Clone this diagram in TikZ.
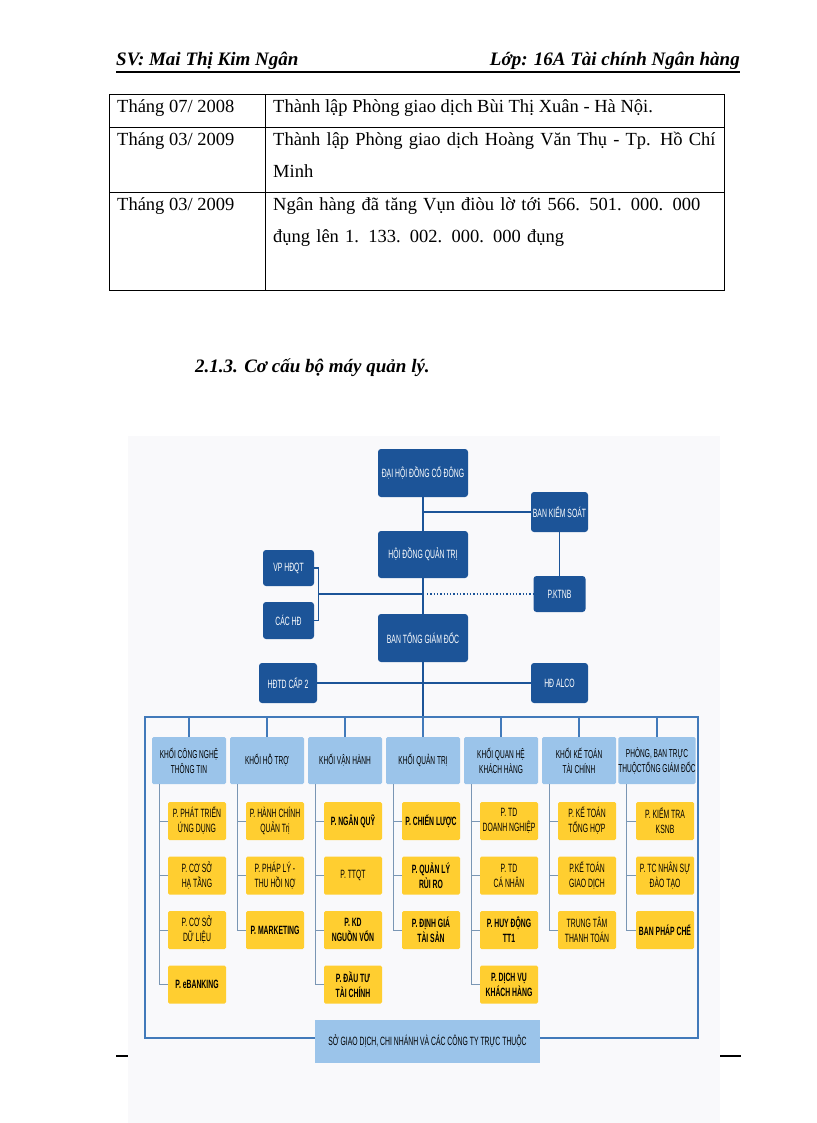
\documentclass[tikz,border=0pt]{standalone}
\usepackage{fontspec}
\setmainfont{Liberation Serif}
\newfontfamily\chartfont[FakeStretch=0.57]{Liberation Sans}
\usepackage{tikz}
\usetikzlibrary{calc, positioning}
\usepackage{xcolor}
\definecolor{orgBlue}{RGB}{28, 84, 152}
\definecolor{khoiBlue}{RGB}{155, 196, 234}
\definecolor{phongGold}{RGB}{255, 206, 48}
\definecolor{frameBlue}{RGB}{66, 122, 186}
\definecolor{tickGray}{RGB}{122, 150, 180}
\definecolor{chartBg}{RGB}{249, 249, 251}

\begin{document}
\begin{tikzpicture}[
  x=1pt, y=-1pt,
  orgbox/.style={rectangle, rounded corners=3pt, fill=orgBlue, text=white, inner sep=0pt,
    align=center, font=\chartfont\fontsize{12}{14}\selectfont},
  khoibox/.style={rectangle, rounded corners=1.5pt, fill=khoiBlue, text=black,
    minimum width=74pt, minimum height=47pt, inner sep=0pt, align=center,
    font=\chartfont\fontsize{11.5}{15}\selectfont},
  subreg/.style={rectangle, rounded corners=1.5pt, fill=phongGold, minimum width=58pt,
    minimum height=38pt, inner sep=0pt, align=center, font=\chartfont\fontsize{12}{15}\selectfont},
  subbold/.style={subreg, font=\chartfont\bfseries\fontsize{12}{15}\selectfont},
  orgline/.style={orgBlue, line width=1.3pt},
  tickline/.style={tickGray, line width=1pt},
  frameline/.style={frameBlue, line width=1.3pt},
  tabcell/.style={anchor=base west, inner sep=0pt, font=\fontsize{18.5}{32}\selectfont},
  pagehead/.style={inner sep=0pt, font=\fontsize{19}{23}\selectfont\bfseries\itshape}
]
  \useasboundingbox (0,0) rectangle (816,1123);
  \fill[white] (0,0) rectangle (816,1123);

  % --- Page header ---
  \node[pagehead, anchor=base west] (sv) at (116,66) {SV: Mai Thị Kim Ngân};
  \node[pagehead, anchor=base east] (lop) at (740,66) {Lớp: 16A Tài chính Ngân hàng};
  \draw[line width=2pt] (116,72) -- (740,72);

  % --- Table ---
  \draw[line width=1pt] (109,95) rectangle (724,290);
  \draw[line width=1pt] (109,128) -- (724,128);
  \draw[line width=1pt] (109,193) -- (724,193);
  \draw[line width=1pt] (265,95) -- (265,290);
  \node[tabcell] (t1) at (117,113) {Tháng 07/ 2008};
  \node[tabcell] (n1) at (273,113) {Thành lập Phòng giao dịch Bùi Thị Xuân - Hà Nội.};
  \node[tabcell] (t2) at (117,146) {Tháng 03/ 2009};
  \node[tabcell, text width=442pt, align=left] (n2) at (273,146)
    {\makebox[\linewidth][s]{Thành lập Phòng giao dịch Hoàng Văn Thụ - Tp. Hồ Chí}\\Minh};
  \node[tabcell] (t3) at (117,211) {Tháng 03/ 2009};
  \node[tabcell, text width=442pt, align=left] (n3) at (273,211)
    {\makebox[\linewidth][s]{Ngân hàng đã tăng Vụn điòu lờ tới 566. 501. 000. 000}\\đụng lên 1. 133. 002. 000. 000 đụng};

  \node[pagehead, anchor=base west] (sec) at (195,372) {2.1.3. Cơ cấu bộ máy quản lý.};

  % footer rule, mostly hidden by the chart
  \draw[line width=2pt] (116,1056) -- (741,1056);
  \fill[chartBg] (128,436) rectangle (720,1123);

  % --- Top management ---
  \node[orgbox, minimum width=90pt, minimum height=48pt] (dh) at (423,473) {ĐẠI HỘI ĐỒNG CỔ ĐÔNG};
  \node[orgbox, minimum width=57pt, minimum height=40pt] (bks) at (559.5,512) {BAN KIỂM SOÁT};
  \node[orgbox, minimum width=90pt, minimum height=47pt] (hd) at (423,554.5) {HỘI ĐỒNG QUẢN TRỊ};
  \node[orgbox, minimum width=51pt, minimum height=36pt] (vp) at (288.5,568) {VP HĐQT};
  \node[orgbox, minimum width=51pt, minimum height=37pt] (cac) at (288.5,620.5) {CÁC HĐ};
  \node[orgbox, minimum width=52pt, minimum height=36pt] (ktnb) at (559.5,594) {P.KTNB};
  \node[orgbox, minimum width=90pt, minimum height=48pt] (tgd) at (423,638) {BAN TỔNG GIÁM ĐỐC};
  \node[orgbox, minimum width=58pt, minimum height=40pt] (htd) at (288,683) {HĐTD CẤP 2};
  \node[orgbox, minimum width=57pt, minimum height=40pt] (alco) at (559.5,683) {HĐ ALCO};

  \coordinate (ftop) at (423,717);
  \coordinate (brk) at (318,594);
  \draw[orgline] (dh) -- (hd);
  \draw[orgline] (hd) -- (tgd);
  \draw[orgline] (tgd) -- (ftop);
  \draw[orgline] (bks.west) -- (bks.west -| dh.south);
  \draw[orgline] (bks) -- (ktnb);
  \draw[orgline] (vp.east) -- ++(4,0) |- (cac.east);
  \draw[orgline] (brk) -- (brk -| hd.south);
  \draw[orgline, dotted, line width=1.8pt] (brk -| hd.south) ++(4,0) -- (ktnb.west);
  \draw[orgline] (htd) -- (alco);

  % --- Divisions ---
  \draw[frameline] (145,717) rectangle (698,1038);
  \foreach \cx/\hd/\subs [count=\i] in {
    189/{KHỐI CÔNG NGHỆ\\THÔNG TIN}/{reg/{P. PHÁT TRIỂN\\ỨNG DỤNG}, reg/{P. CƠ SỞ\\HẠ TẦNG}, reg/{P. CƠ SỞ\\DỮ LIỆU}, bold/{P. eBANKING}},
    267/{KHỐI HỖ TRỢ}/{reg/{P. HÀNH CHÍNH\\QUẢN Trị}, reg/{P. PHÁP LÝ -\\THU HỒI NỢ}, bold/{P. MARKETING}},
    345/{KHỐI VẬN HÀNH}/{bold/{P. NGÂN QUỸ}, reg/{P. TTQT}, bold/{P. KD\\NGUỒN VỐN}, bold/{P. ĐẦU TƯ\\TÀI CHÍNH}},
    423/{KHỐI QUẢN TRỊ}/{bold/{P. CHIẾN LƯỢC}, bold/{P. QUẢN LÝ\\RỦI RO}, bold/{P. ĐỊNH GIÁ\\TÀI SẢN}},
    501/{KHỐI QUAN HỆ\\KHÁCH HÀNG}/{reg/{P. TD\\DOANH NGHIỆP}, reg/{P. TD\\CÁ NHÂN}, bold/{P. HUY ĐỘNG\\TT1}, bold/{P. DỊCH VỤ\\KHÁCH HÀNG}},
    579/{KHỐI KẾ TOÁN\\TÀI CHÍNH}/{reg/{P. KẾ TOÁN\\TỔNG HỢP}, reg/{P.KẾ TOÁN\\GIAO DỊCH}, reg/{TRUNG TÂM\\THANH TOÁN}},
    657/{PHÒNG, BAN TRỰC\\THUỘCTỔNG GIÁM ĐỐC}/{reg/{P. KIỂM TRA\\KSNB}, reg/{P. TC NHÂN SỰ\\ĐÀO TẠO}, bold/{BAN PHÁP CHẾ}}} {
    \node[khoibox] (khoi\i) at (\cx,760.5) {\hd};
    \draw[frameline] (khoi\i.north) -- (khoi\i.north |- ftop);
    \coordinate (bus\i) at ([xshift=8pt]khoi\i.south west);
    \foreach \w/\s [count=\j] in \subs {
      \node[sub\w] (p\i-\j) at ({\cx+8},{766.5+54.5*\j}) {\s};
      \draw[tickline] (bus\i) |- (p\i-\j.west);
    }
  }

  \node[khoibox, minimum width=225pt, minimum height=43pt, rounded corners=0pt,
    font=\chartfont\fontsize{12}{15}\selectfont] (sgd) at (427.5,1041.5)
    {SỞ GIAO DỊCH, CHI NHÁNH VÀ CÁC CÔNG TY TRỰC THUỘC};
\end{tikzpicture}
\end{document}
